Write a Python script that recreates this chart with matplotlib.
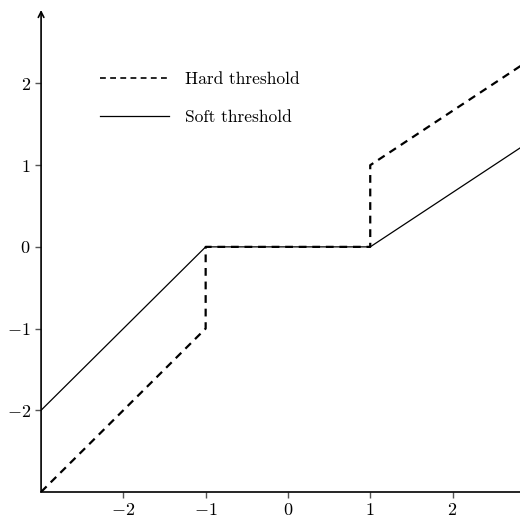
import matplotlib
matplotlib.use("Agg")
import matplotlib.pyplot as plt

plt.rcParams['font.family'] = 'serif'
plt.rcParams['font.serif'] = ['cmr10']
plt.rcParams['mathtext.fontset'] = 'cm'
plt.rcParams['axes.formatter.use_mathtext'] = True

# hard threshold path
hard_x = [-3, -1, -1, 1, 1, 3]
hard_y = [-3, -1, 0, 0, 1, 2.33]
# soft threshold path
soft_x = [-3, -1, 1, 3]
soft_y = [-2, 0, 0, 1.33]
ticks = [-2, -1, 0, 1, 2]

fig = plt.figure(figsize=(5.2, 5.25), dpi=100)
ax = fig.add_axes([0.079, 0.063, 0.921, 0.918])

ax.plot(hard_x, hard_y, 'k', lw=1.6, dashes=(3.5, 2.6), label='Hard threshold')
ax.plot(soft_x, soft_y, 'k', lw=0.9, label='Soft threshold')

ax.set_xlim(-3, 2.82)
ax.set_ylim(-3, 2.9)
ax.set_xticks(ticks)
ax.set_yticks(ticks)
ax.tick_params(labelsize=13, length=4, width=1, color='#555555')

ax.spines['top'].set_visible(False)
ax.spines['right'].set_visible(False)
ax.spines['left'].set_visible(False)
ax.spines['bottom'].set_linewidth(1.2)
ax.annotate('', xy=(0, 1), xytext=(0, 0), xycoords='axes fraction',
            arrowprops=dict(arrowstyle='->', lw=1.2, color='k',
                            shrinkA=0, shrinkB=0), annotation_clip=False)

leg = ax.legend(loc='upper left', bbox_to_anchor=(0.123, 0.872), frameon=False,
                fontsize=12.5, handlelength=4.0, handletextpad=0.9, labelspacing=1.3,
                borderpad=0, borderaxespad=0)
leg.get_lines()[0].set_linewidth(1.2)

fig.savefig('out.png', dpi=100)
